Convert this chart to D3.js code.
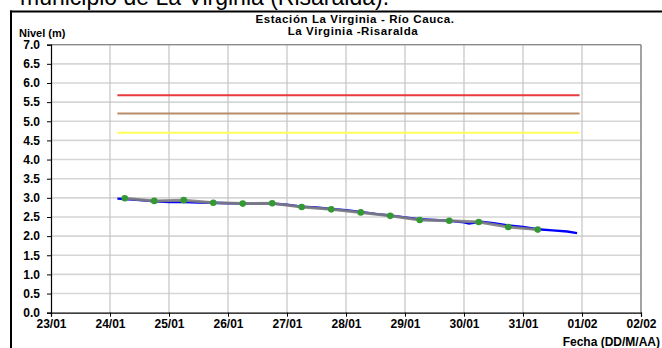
<!DOCTYPE html>
<html><head><meta charset="utf-8">
<script src="https://cdn.jsdelivr.net/npm/d3@7"></script>
<style>body{margin:0;background:#fff;overflow:hidden}svg{display:block}text{font-family:Arial,"Liberation Sans",sans-serif}</style>
</head><body>
<script>
// ---- data ----
const xTickLabels = ["23/01","24/01","25/01","26/01","27/01","28/01","29/01","30/01","31/01","01/02","02/02"];
const yTicks = [0,0.5,1,1.5,2,2.5,3,3.5,4,4.5,5,5.5,6,6.5,7];
// observations every 12 h (green points, grey line)
const obsTimes = ["2011-01-24T06:00","2011-01-24T18:00","2011-01-25T06:00","2011-01-25T18:00","2011-01-26T06:00","2011-01-26T18:00","2011-01-27T06:00","2011-01-27T18:00","2011-01-28T06:00","2011-01-28T18:00","2011-01-29T06:00","2011-01-29T18:00","2011-01-30T06:00","2011-01-30T18:00","2011-01-31T06:00"];
const obsValues = [2.99,2.92,2.94,2.87,2.85,2.86,2.76,2.70,2.62,2.53,2.42,2.40,2.37,2.24,2.17];
// automatic sensor (blue line)
const autoTimes = ["2011-01-24T03:00","2011-01-24T06:00","2011-01-24T12:00","2011-01-24T18:00","2011-01-25T00:00","2011-01-25T06:00","2011-01-25T12:00","2011-01-25T18:00","2011-01-26T00:00","2011-01-26T06:00","2011-01-26T12:00","2011-01-26T18:00","2011-01-27T00:00","2011-01-27T06:00","2011-01-27T12:00","2011-01-27T18:00","2011-01-28T00:00","2011-01-28T06:00","2011-01-28T12:00","2011-01-28T18:00","2011-01-29T00:00","2011-01-29T06:00","2011-01-29T12:00","2011-01-29T18:00","2011-01-30T00:00","2011-01-30T02:00","2011-01-30T04:00","2011-01-30T06:00","2011-01-30T12:00","2011-01-30T18:00","2011-01-31T00:00","2011-01-31T06:00","2011-01-31T12:00","2011-01-31T18:00","2011-01-31T22:00"];
const autoValues = [2.98,2.97,2.94,2.91,2.89,2.89,2.88,2.87,2.86,2.85,2.85,2.85,2.82,2.77,2.75,2.71,2.68,2.63,2.58,2.54,2.49,2.44,2.42,2.40,2.36,2.33,2.35,2.38,2.34,2.28,2.24,2.18,2.15,2.12,2.08];
// alert thresholds
const thresholdNames = ["roja","naranja","amarilla"];
const thresholdValues = [5.68,5.20,4.70];
const thresholdColors = ["#e83a3a","#b98c6a","#ffff55"];
const thresholdStart = "2011-01-24T03:00";
const thresholdEnd = "2011-01-31T23:00";

// ---- layout ----
const W = 662, H = 348;
const svg = d3.select("body").append("svg").attr("width",W).attr("height",H);
const m = {l:51, r:641, t:44.7, b:312.7};
const parse = d3.isoParse;
const x = d3.scaleTime().domain([new Date(2011,0,23), new Date(2011,1,2)]).range([m.l,m.r]);
const y = d3.scaleLinear().domain([0,7]).range([m.b,m.t]);

// cut heading above frame
svg.append("text").attr("x",20).attr("y",5).attr("font-size",23).attr("fill","#000")
  .text("municipio de La Virginia (Risaralda).");
// frame
svg.append("line").attr("x1",10).attr("x2",W).attr("y1",11.5).attr("y2",11.5).attr("stroke","#000").attr("stroke-width",2);
svg.append("line").attr("x1",11).attr("x2",11).attr("y1",10.5).attr("y2",H).attr("stroke","#000").attr("stroke-width",2);

// grid
const g = svg.append("g");
g.selectAll(".hg").data(yTicks.slice(1)).enter().append("line")
  .attr("x1",m.l).attr("x2",m.r).attr("y1",d=>y(d)).attr("y2",d=>y(d))
  .attr("stroke","#d6d6d6").attr("stroke-width",1.6);
const dayTicks = xTickLabels.map((s,i)=>d3.timeDay.offset(new Date(2011,0,23),i));
g.selectAll(".vg").data(dayTicks.slice(1)).enter().append("line")
  .attr("x1",d=>x(d)).attr("x2",d=>x(d)).attr("y1",m.t).attr("y2",m.b)
  .attr("stroke","#c4c4c4").attr("stroke-width",1.2);
// plot border top/right
svg.append("line").attr("x1",m.l).attr("x2",m.r).attr("y1",m.t).attr("y2",m.t).attr("stroke","#8a8a8a").attr("stroke-width",1.2);
svg.append("line").attr("x1",m.r).attr("x2",m.r).attr("y1",m.t).attr("y2",m.b).attr("stroke","#8a8a8a").attr("stroke-width",1.4);

// thresholds
thresholdValues.forEach((v,i)=>{
  svg.append("line").attr("x1",x(parse(thresholdStart))).attr("x2",x(parse(thresholdEnd)))
    .attr("y1",y(v)).attr("y2",y(v)).attr("stroke",thresholdColors[i]).attr("stroke-width",2);
});

// blue line
const autoData = autoTimes.map((t,i)=>({t:parse(t),v:autoValues[i]}));
const obsData = obsTimes.map((t,i)=>({t:parse(t),v:obsValues[i]}));
const line = d3.line().x(d=>x(d.t)).y(d=>y(d.v));
svg.append("path").datum(autoData).attr("d",line).attr("fill","none").attr("stroke","#0000ff").attr("stroke-width",2.4);
svg.append("path").datum(obsData).attr("d",line).attr("fill","none").attr("stroke","#808080").attr("stroke-width",3).attr("stroke-opacity",0.9);
svg.selectAll(".pt").data(obsData).enter().append("circle")
  .attr("cx",d=>x(d.t)).attr("cy",d=>y(d.v)).attr("r",3.3).attr("fill","#339933");

// axes
const yAxis = d3.axisLeft(y).tickValues(yTicks).tickFormat(d3.format(".1f")).tickSize(4);
const ya = svg.append("g").attr("transform",`translate(${m.l},0)`).call(yAxis);
ya.select(".domain").attr("stroke","#000").attr("stroke-width",1.2);
ya.selectAll("text").attr("font-size",12).attr("font-weight","bold").attr("font-family","Arial, 'Liberation Sans'").attr("x",-11).attr("fill","#000");
const xAxis = d3.axisBottom(x).tickValues(dayTicks).tickFormat((d,i)=>xTickLabels[i]).tickSize(4);
const xa = svg.append("g").attr("transform",`translate(0,${m.b})`).call(xAxis);
xa.select(".domain").attr("stroke","#000").attr("stroke-width",1.2);
xa.selectAll("text").attr("font-size",12).attr("font-weight","bold").attr("font-family","Arial, 'Liberation Sans'").attr("y",7).attr("fill","#000");

// titles
svg.append("text").attr("x",355).attr("y",23).attr("text-anchor","middle").attr("font-size",11.5).attr("font-weight","bold")
  .attr("letter-spacing",0.6).text("Estación La Virginia  - Río Cauca.");
svg.append("text").attr("x",353).attr("y",35).attr("text-anchor","middle").attr("font-size",11.5).attr("font-weight","bold")
  .attr("letter-spacing",0.6).text("La Virginia -Risaralda");
svg.append("text").attr("x",19).attr("y",37).attr("font-size",11).attr("font-weight","bold").text("Nivel (m)");
svg.append("text").attr("x",660).attr("y",346).attr("text-anchor","end").attr("font-size",12).attr("font-weight","bold").text("Fecha (DD/M/AA)");
</script>
</body></html>
